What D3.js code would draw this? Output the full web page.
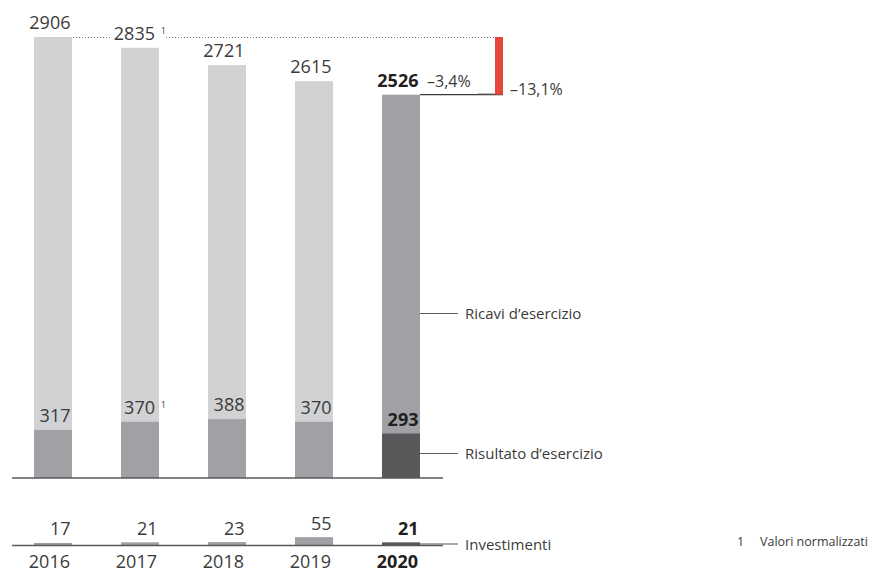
<!DOCTYPE html>
<html>
<head>
<meta charset="utf-8">
<script src="https://cdn.jsdelivr.net/npm/d3@7"></script>
<style>
  html, body { margin: 0; padding: 0; background: #fff; }
  svg { display: block; font-family: "Open Sans", "DejaVu Sans", sans-serif; }
</style>
</head>
<body>
<svg id="chart" width="870" height="573"></svg>
<script>
// ---- data ----
const years = ["2016", "2017", "2018", "2019", "2020"];
const ricavi = [2906, 2835, 2721, 2615, 2526];
const risultato = [317, 370, 388, 370, 293];
const investimenti = [17, 21, 23, 55, 21];
const normalized = ["2017"];            // revenue/result values marked with footnote 1
const changeYoY = "–3,4%";
const changeMax = "–13,1%";
const seriesLabels = ["Ricavi d’esercizio", "Risultato d’esercizio", "Investimenti"];
const footnote = ["1", "Valori normalizzati"];
const currentYear = "2020";

// ---- layout ----
const svg = d3.select("#chart");
const baseTop = 478, baseBot = 545.5;
const maxV = d3.max(ricavi);

const x = d3.scaleBand().domain(years).range([34, 420]).paddingInner(49 / 87).paddingOuter(0);
const bw = x.bandwidth();
const yTop = d3.scaleLinear().domain([0, maxV]).range([baseTop, 37]);
const pxPerUnit = (baseTop - 37) / maxV;
const yBot = d3.scaleLinear().domain([0, maxV]).range([baseBot, baseBot - maxV * pxPerUnit]);

const C = { light: "#d1d2d4", mid: "#a0a1a5", dark: "#58595b", red: "#e5473a", text: "#3b3b3b", bold: "#231f20" };
const isCur = d => d === currentYear;

// dotted reference line at max revenue
const redX = 495, redW = 8;
svg.append("line")
  .attr("x1", x(years[0]) + bw + 1).attr("x2", redX)
  .attr("y1", yTop(maxV) + 0.5).attr("y2", yTop(maxV) + 0.5)
  .attr("stroke", "#7a7a7a").attr("stroke-width", 1).attr("stroke-dasharray", "1,2");

// revenue bars
svg.append("g").selectAll("rect").data(years).join("rect")
  .attr("x", d => x(d)).attr("width", bw)
  .attr("y", (d, i) => yTop(ricavi[i])).attr("height", (d, i) => baseTop - yTop(ricavi[i]))
  .attr("fill", d => isCur(d) ? C.mid : C.light);

// result bars
svg.append("g").selectAll("rect").data(years).join("rect")
  .attr("x", d => x(d)).attr("width", bw)
  .attr("y", (d, i) => yTop(risultato[i])).attr("height", (d, i) => baseTop - yTop(risultato[i]))
  .attr("fill", d => isCur(d) ? C.dark : C.mid);

// investment bars
svg.append("g").selectAll("rect").data(years).join("rect")
  .attr("x", d => x(d)).attr("width", bw)
  .attr("y", (d, i) => yBot(investimenti[i])).attr("height", (d, i) => baseBot - yBot(investimenti[i]))
  .attr("fill", d => isCur(d) ? C.dark : C.mid);

// baselines
[baseTop, baseBot].forEach(b => {
  svg.append("line").attr("x1", 12).attr("x2", 443).attr("y1", b).attr("y2", b)
    .attr("stroke", C.dark).attr("stroke-width", 1.5);
});

// value labels
function valueLabels(vals, yScale, offset, withNotes, withBg) {
  const g = svg.append("g");
  years.forEach((yr, i) => {
    const cur = isCur(yr);
    const note = withNotes && normalized.includes(yr);
    const right = x(yr) + bw - (note ? 4 : 1.5);
    const by = yScale(vals[i]) - offset;
    const t = g.append("text")
      .attr("x", right).attr("y", by)
      .attr("text-anchor", "end")
      .attr("font-size", 18)
      .attr("font-weight", cur ? 700 : 400)
      .attr("fill", cur ? C.bold : C.text)
      .text(vals[i]);
    if (note) {
      g.append("text").attr("x", x(yr) + bw + 2).attr("y", by - 6)
        .attr("font-size", 8.5).attr("fill", C.text).text("1");
    }
    if (withBg && note) {
      const bb = t.node().getBBox();
      g.insert("rect", "text").attr("x", bb.x - 2).attr("y", bb.y).attr("width", bb.width + 12).attr("height", bb.height - 4)
        .attr("fill", "#fff");
    }
  });
  return g;
}
valueLabels(ricavi, yTop, 8, true, true);
valueLabels(risultato, yTop, 8, true, false);
valueLabels(investimenti, yBot, 7.5, false, false);

// change markers
const lastI = years.length - 1;
const yLast = yTop(ricavi[lastI]);
svg.append("line").attr("x1", x(currentYear) + bw).attr("x2", redX + redW)
  .attr("y1", yLast).attr("y2", yLast).attr("stroke", "#3b3b3b").attr("stroke-width", 1.2);
svg.append("line").attr("x1", 478).attr("x2", redX)
  .attr("y1", yLast - 1).attr("y2", yLast - 1).attr("stroke", "#b0b0b0").attr("stroke-width", 1);
svg.append("rect").attr("x", redX).attr("width", redW)
  .attr("y", yTop(maxV)).attr("height", yLast - yTop(maxV)).attr("fill", C.red);
svg.append("text").attr("x", 427).attr("y", yLast - 7.5).attr("font-size", 16).attr("fill", C.text).text(changeYoY);
svg.append("text").attr("x", 510).attr("y", yLast + 0.5).attr("font-size", 16).attr("fill", C.text).text(changeMax);

// series legend lines
const legendY = [313.5, 453.5, 544];
seriesLabels.forEach((lab, i) => {
  svg.append("line").attr("x1", x(currentYear) + bw).attr("x2", 458)
    .attr("y1", legendY[i]).attr("y2", legendY[i]).attr("stroke", C.dark).attr("stroke-width", 1);
  svg.append("text").attr("x", 465).attr("y", legendY[i] + 5.5)
    .attr("font-size", 15).attr("fill", C.text).text(lab);
});

// footnote
svg.append("text").attr("x", 737).attr("y", 546).attr("font-size", 12.5).attr("fill", C.text).text(footnote[0]);
svg.append("text").attr("x", 760).attr("y", 546).attr("font-size", 12.5).attr("fill", C.text).text(footnote[1]);

// year axis
const axis = svg.append("g").attr("transform", `translate(0,568)`)
  .call(d3.axisBottom(x).tickSize(0).tickSizeOuter(0));
axis.select(".domain").remove();
axis.selectAll(".tick text")
  .attr("y", 0).attr("dy", 0)
  .attr("x", bw / 2 - 2)
  .attr("text-anchor", "end")
  .attr("font-family", "\"Open Sans\", sans-serif")
  .attr("font-size", 18)
  .attr("font-weight", d => isCur(d) ? 700 : 400)
  .attr("fill", d => isCur(d) ? C.bold : C.text);
</script>
</body>
</html>
